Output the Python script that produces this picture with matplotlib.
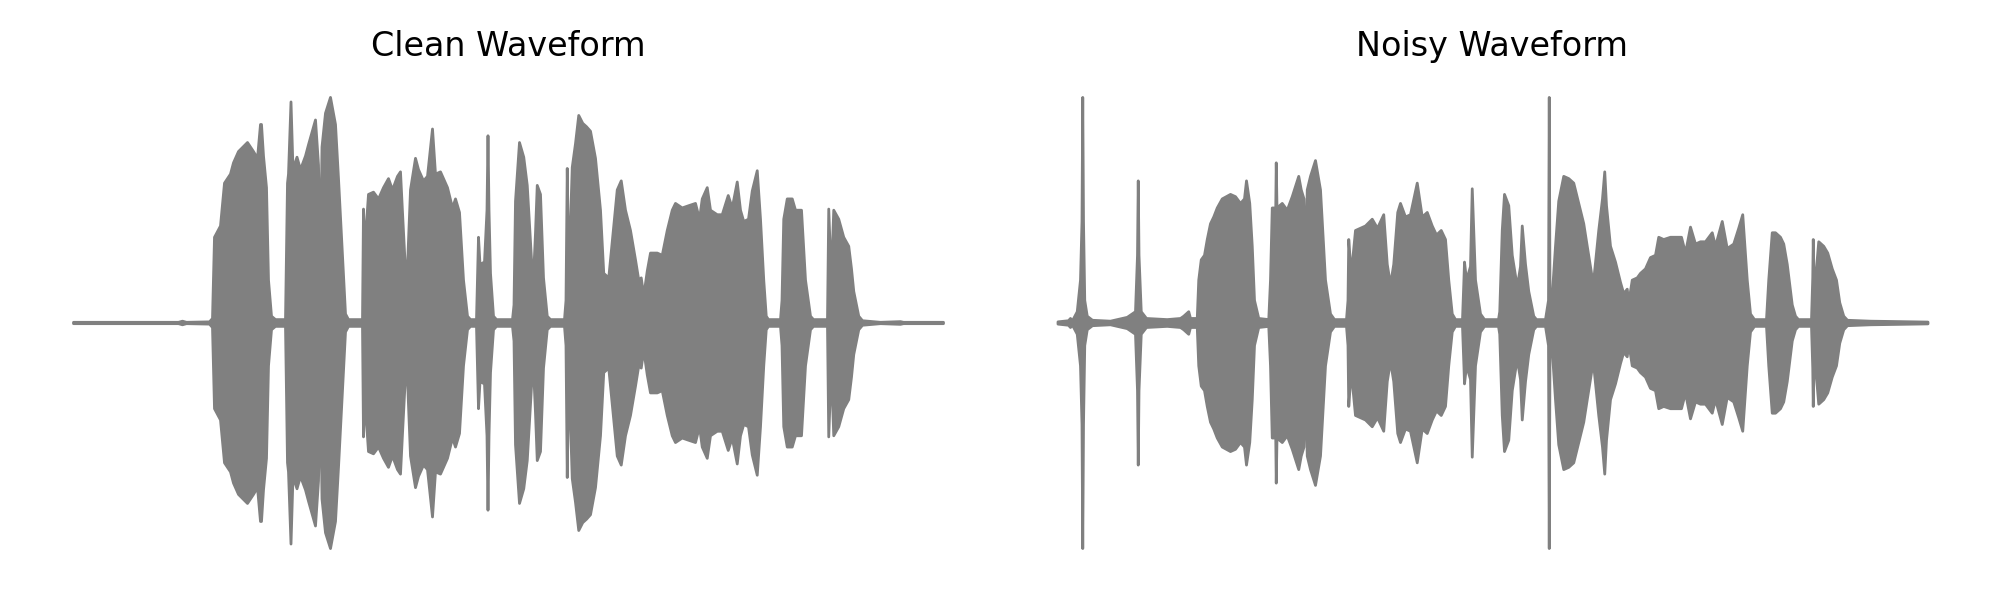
import numpy as np
import matplotlib
matplotlib.use('Agg')
import matplotlib.pyplot as plt

# envelope of the clean waveform: time (ms) and peak amplitude
clean_t = [0, 420, 436, 452, 544, 556, 564, 588, 604, 628, 640, 660, 696, 720, 736,
           748, 752, 760, 772, 780, 792, 808, 848, 856, 860, 870, 878, 894, 908, 928,
           940, 968, 980, 988, 994, 1008, 1028, 1048, 1060, 1074, 1088, 1100, 1156, 1160,
           1166, 1172, 1180, 1200, 1220, 1240, 1260, 1276, 1296, 1308, 1316, 1328, 1336,
           1348, 1368, 1380, 1400, 1416, 1436, 1448, 1468, 1496, 1516, 1528, 1544, 1560,
           1576, 1588, 1612, 1620, 1626, 1644, 1654, 1658, 1662, 1668, 1680, 1692, 1756,
           1762, 1768, 1784, 1801, 1815, 1835, 1840, 1848, 1855, 1868, 1880, 1895, 1908,
           1964, 1970, 1975, 1981, 1995, 2008, 2021, 2037, 2052, 2068, 2088, 2108, 2121,
           2141, 2155, 2175, 2191, 2208, 2228, 2248, 2261, 2271, 2281, 2295, 2308, 2335,
           2355, 2375, 2395, 2408, 2435, 2461, 2488, 2504, 2515, 2535, 2548, 2575, 2595,
           2619, 2635, 2655, 2668, 2681, 2700, 2715, 2735, 2748, 2761, 2771, 2780, 2828,
           2834, 2841, 2855, 2875, 2888, 2912, 2928, 2948, 2960, 3016, 3021, 3031, 3041,
           3061, 3081, 3101, 3112, 3121, 3141, 3156, 3228, 3308, 3320, 3480]
clean_amp = [0.003, 0.003, 0.008, 0.003, 0.005, 0.02, 0.38, 0.43, 0.62, 0.66, 0.71, 0.76, 0.80, 0.76, 0.73,
             0.88, 0.88, 0.74, 0.60, 0.19, 0.03, 0.015, 0.015, 0.62, 0.66, 0.98, 0.68, 0.735, 0.68, 0.74,
             0.79, 0.90, 0.70, 0.28, 0.78, 0.93, 1.00, 0.88, 0.64, 0.34, 0.04, 0.015, 0.015, 0.505,
             0.30, 0.44, 0.57, 0.58, 0.55, 0.60, 0.64, 0.59, 0.65, 0.67, 0.49, 0.23, 0.25,
             0.59, 0.73, 0.68, 0.63, 0.65, 0.86, 0.66, 0.67, 0.60, 0.51, 0.55, 0.49, 0.19,
             0.03, 0.015, 0.015, 0.38, 0.26, 0.27, 0.50, 0.83, 0.50, 0.22, 0.03, 0.015, 0.015,
             0.08, 0.54, 0.80, 0.735, 0.61, 0.225, 0.20, 0.40, 0.61, 0.57, 0.20, 0.03, 0.015,
             0.015, 0.10, 0.685, 0.20, 0.69, 0.795, 0.92, 0.885, 0.87, 0.85, 0.73, 0.50, 0.22,
             0.20, 0.36, 0.59, 0.63, 0.50, 0.41, 0.28, 0.19, 0.20, 0.12, 0.23, 0.31, 0.31,
             0.30, 0.41, 0.50, 0.53, 0.51, 0.52, 0.53, 0.46, 0.55, 0.60, 0.50, 0.48, 0.48,
             0.565, 0.51, 0.625, 0.50, 0.45, 0.46, 0.585, 0.675, 0.46, 0.19, 0.03, 0.015, 0.015,
             0.10, 0.46, 0.55, 0.55, 0.50, 0.50, 0.19, 0.03, 0.015, 0.015, 0.505, 0.19, 0.50,
             0.46, 0.38, 0.34, 0.24, 0.14, 0.03, 0.01, 0.003, 0.006, 0.003, 0.003]

# envelope of the noisy waveform
noisy_t = [0, 42, 50, 58, 77, 90, 96, 99, 102, 107, 117, 138, 210, 277, 310, 318, 321, 324,
           333, 354, 437, 490, 503, 523, 530, 557, 563, 573, 586, 597, 610, 623, 637, 657,
           690, 710, 730, 746, 754, 767, 777, 786, 803, 843, 850, 857, 871, 873, 876, 897,
           917, 937, 963, 973, 984, 990, 997, 1010, 1030, 1050, 1070, 1090, 1106, 1154,
           1160, 1163, 1170, 1177, 1190, 1210, 1230, 1257, 1278, 1303, 1317, 1330, 1343,
           1359, 1370, 1390, 1410, 1437, 1457, 1477, 1497, 1514, 1533, 1550, 1563, 1577,
           1590, 1618, 1624, 1626, 1634, 1650, 1657, 1670, 1690, 1706, 1762, 1767, 1777,
           1786, 1803, 1817, 1837, 1850, 1857, 1870, 1883, 1903, 1914, 1950, 1962, 1965,
           1968, 1977, 1990, 2003, 2023, 2043, 2063, 2083, 2103, 2117, 2137, 2143, 2163,
           2178, 2187, 2194, 2210, 2230, 2250, 2263, 2277, 2283, 2297, 2317, 2330, 2350,
           2370, 2390, 2403, 2423, 2450, 2477, 2494, 2510, 2530, 2550, 2570, 2590, 2617,
           2630, 2657, 2677, 2703, 2723, 2739, 2757, 2770, 2786, 2834, 2843, 2857, 2870,
           2890, 2903, 2917, 2937, 2950, 2962, 3014, 3019, 3021, 3024, 3030, 3043, 3063,
           3079, 3097, 3114, 3127, 3143, 3158, 3250, 3370, 3480]
noisy_amp = [0.005, 0.01, 0.02, 0.01, 0.05, 0.19, 0.45, 1.00, 0.45, 0.10, 0.03, 0.012, 0.008, 0.025, 0.05, 0.30, 0.63, 0.30,
             0.05, 0.02, 0.015, 0.02, 0.03, 0.05, 0.02, 0.02, 0.19, 0.28, 0.30, 0.37, 0.44, 0.47, 0.51, 0.55,
             0.57, 0.56, 0.53, 0.55, 0.63, 0.53, 0.34, 0.10, 0.02, 0.015, 0.19, 0.51, 0.51, 0.71, 0.51, 0.53,
             0.50, 0.56, 0.65, 0.59, 0.55, 0.20, 0.59, 0.65, 0.72, 0.59, 0.19, 0.04, 0.015, 0.015,
             0.10, 0.37, 0.26, 0.26, 0.41, 0.42, 0.43, 0.46, 0.42, 0.48, 0.26, 0.17, 0.26,
             0.49, 0.53, 0.47, 0.48, 0.62, 0.47, 0.49, 0.43, 0.39, 0.41, 0.37, 0.19, 0.04,
             0.015, 0.015, 0.20, 0.27, 0.19, 0.25, 0.595, 0.19, 0.04, 0.015, 0.015, 0.05, 0.41,
             0.57, 0.52, 0.30, 0.16, 0.25, 0.43, 0.26, 0.14, 0.03, 0.015, 0.015, 0.10, 1.00,
             0.10, 0.12, 0.34, 0.54, 0.65, 0.64, 0.62, 0.53, 0.44, 0.34, 0.20, 0.19, 0.41,
             0.55, 0.67, 0.52, 0.34, 0.27, 0.18, 0.13, 0.15, 0.09, 0.19, 0.20, 0.22, 0.24,
             0.29, 0.30, 0.38, 0.37, 0.38, 0.38, 0.38, 0.31, 0.425, 0.35, 0.36, 0.36, 0.40,
             0.34, 0.45, 0.33, 0.35, 0.42, 0.48, 0.19, 0.04, 0.015, 0.015, 0.19, 0.40, 0.40,
             0.38, 0.35, 0.26, 0.08, 0.03, 0.015, 0.015, 0.20, 0.37, 0.20, 0.19, 0.36, 0.34,
             0.31, 0.24, 0.19, 0.09, 0.03, 0.012, 0.008, 0.006, 0.004]

titles = ['Clean Waveform', 'Noisy Waveform']
duration = 3480


def draw_wave(ax, t, amp, title):
    t = np.array(t) / 1000.0
    amp = np.array(amp)
    ax.fill_between(t, -amp, amp, color='gray', edgecolor='gray',
                    linewidth=2, joinstyle='round')
    ax.set_xlim(-0.05 * duration / 1000.0, 1.05 * duration / 1000.0)
    ax.set_ylim(-1.146, 1.146)
    ax.set_title(title, fontsize=24)
    ax.axis('off')


def main():
    fig = plt.figure(figsize=(20, 6), dpi=100)
    ax1 = fig.add_axes([0.01475, 0.03167, 0.4785, 0.8617])
    ax2 = fig.add_axes([0.507, 0.03167, 0.4785, 0.8617])
    draw_wave(ax1, clean_t, clean_amp, titles[0])
    draw_wave(ax2, noisy_t, noisy_amp, titles[1])
    fig.savefig('out.png', dpi=100)


if __name__ == '__main__':
    main()
